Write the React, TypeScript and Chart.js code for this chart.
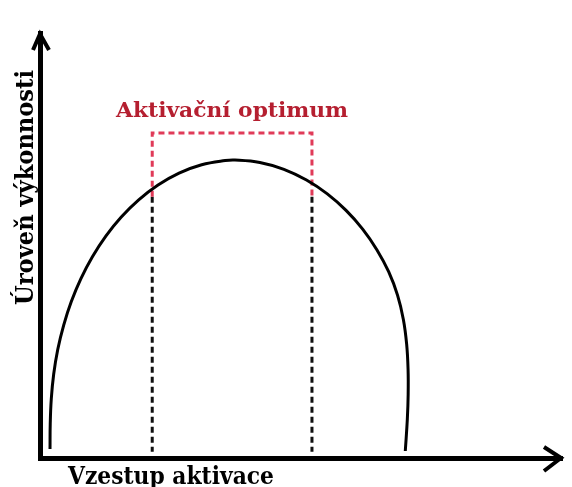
import React, { useEffect, useRef } from "react";
import { Chart, registerables } from "chart.js";

Chart.register(...registerables);

// Inverted-U curve: activation (x) vs. performance (y), axis units 0–100
const curveX = [1.92, 1.96, 2.16, 2.62, 3.4, 4.53, 6.0, 7.84, 10.04, 12.61, 15.57, 18.91, 22.61, 26.64, 30.97, 35.48, 37.36, 42.12, 46.73, 51.05, 55.04, 58.63, 61.81, 64.53, 66.79, 68.49, 69.61, 70.24, 70.51, 70.53, 70.37, 69.98];
const curveY = [2.12, 8.0, 13.88, 19.72, 25.53, 31.22, 36.8, 42.19, 47.34, 52.21, 56.71, 60.75, 64.24, 67.04, 69.01, 70.0, 70.12, 69.55, 67.93, 65.41, 62.15, 58.26, 53.86, 49.02, 43.83, 38.33, 32.61, 26.78, 20.9, 15.02, 9.14, 1.65];

// Optimum zone
const optimumBounds = [21.5, 52.1];
const optimumTop = 76.5;
const optimumSplit = 61.5;
const dropBottom = 1.5;

// Texts
const optimumLabel = "Aktivační optimum";
const xTitle = "Vzestup aktivace";
const yTitle = "Úroveň výkonnosti";

const SERIF = "'DejaVu Serif', 'Liberation Serif', serif";

function fitText(
  ctx: CanvasRenderingContext2D,
  text: string,
  x: number,
  y: number,
  targetW: number,
  font: string,
  color: string,
  rotate: boolean
) {
  ctx.save();
  ctx.font = font;
  const w = ctx.measureText(text).width;
  ctx.translate(x, y);
  if (rotate) ctx.rotate(-Math.PI / 2);
  ctx.scale(targetW / w, 1);
  ctx.fillStyle = color;
  ctx.textBaseline = "alphabetic";
  ctx.textAlign = "left";
  ctx.fillText(text, 0, 0);
  ctx.restore();
}

const decorPlugin = {
  id: "decor",
  afterDraw(chart: any) {
    const ctx: CanvasRenderingContext2D = chart.ctx;
    const { left, right, top, bottom } = chart.chartArea;
    const xs = chart.scales.x;
    const ys = chart.scales.y;

    // arrowheads
    ctx.save();
    ctx.strokeStyle = "#000";
    ctx.lineWidth = 4;
    ctx.lineJoin = "miter";
    ctx.lineCap = "butt";
    ctx.beginPath();
    ctx.moveTo(left - 7, top + 17);
    ctx.lineTo(left, top + 1);
    ctx.lineTo(left + 9, top + 17);
    ctx.stroke();
    ctx.beginPath();
    ctx.moveTo(right - 18, bottom - 11);
    ctx.lineTo(right - 1, bottom);
    ctx.lineTo(right - 18, bottom + 13);
    ctx.stroke();
    ctx.restore();

    // optimum label centred over the zone
    const cx = (xs.getPixelForValue(optimumBounds[0]) + xs.getPixelForValue(optimumBounds[1])) / 2;
    const ty = ys.getPixelForValue(optimumTop);
    const ow = 232;
    fitText(ctx, optimumLabel, cx - ow / 2, ty - 16, ow, `bold 20px ${SERIF}`, "#b51f30", false);

    // axis titles
    fitText(ctx, xTitle, left + 28, bottom + 26, 206, `bold 24px ${SERIF}`, "#000", false);
    fitText(ctx, yTitle, left - 7, top + 272, 235, `bold 24px ${SERIF}`, "#000", true);
  },
};

export default function App() {
  const ref = useRef<HTMLCanvasElement | null>(null);

  useEffect(() => {
    if (!ref.current) return;
    const curve = curveX.map((x, i) => ({ x, y: curveY[i] }));
    const redBox = [
      { x: optimumBounds[0], y: optimumSplit },
      { x: optimumBounds[0], y: optimumTop },
      { x: optimumBounds[1], y: optimumTop },
      { x: optimumBounds[1], y: optimumSplit },
    ];
    const drops = optimumBounds.map((bx) => [
      { x: bx, y: optimumSplit },
      { x: bx, y: dropBottom },
    ]);

    const chart = new Chart(ref.current, {
      type: "scatter",
      data: {
        datasets: [
          {
            data: curve,
            showLine: true,
            borderColor: "#000",
            borderWidth: 3,
            tension: 0.4,
            pointRadius: 0,
            fill: false,
          },
          {
            data: redBox,
            showLine: true,
            borderColor: "#e03a58",
            borderWidth: 3,
            borderDash: [6, 4],
            tension: 0,
            pointRadius: 0,
            fill: false,
          },
          ...drops.map((d) => ({
            data: d,
            showLine: true,
            borderColor: "#111",
            borderWidth: 3,
            borderDash: [6, 4],
            tension: 0,
            pointRadius: 0,
            fill: false,
          })),
        ],
      },
      options: {
        responsive: false,
        animation: false,
        devicePixelRatio: 1,
        layout: { padding: { left: 40, top: 33, right: 10, bottom: 29 } },
        plugins: { legend: { display: false }, tooltip: { enabled: false } },
        scales: {
          x: {
            type: "linear",
            min: 0,
            max: 100,
            grid: { display: false, drawTicks: false },
            ticks: { display: false },
            border: { display: true, width: 5, color: "#000" },
          },
          y: {
            type: "linear",
            min: 0,
            max: 100,
            grid: { display: false, drawTicks: false },
            ticks: { display: false },
            border: { display: true, width: 5, color: "#000" },
          },
        },
      },
      plugins: [decorPlugin],
    });
    return () => chart.destroy();
  }, []);

  return (
    <div style={{ position: "fixed", left: 0, top: 0, width: 572, height: 487, background: "#fff" }}>
      <canvas ref={ref} width={572} height={487} />
    </div>
  );
}
